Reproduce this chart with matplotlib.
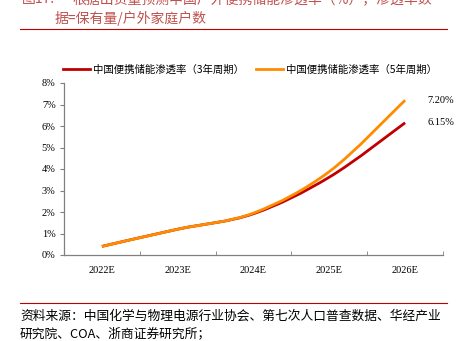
import matplotlib.pyplot as plt
from matplotlib.path import Path
from matplotlib.patches import PathPatch
from matplotlib.lines import Line2D

plt.rcParams['font.family'] = ['Noto Sans CJK SC', 'DejaVu Sans']

years = ['2022E', '2023E', '2024E', '2025E', '2026E']
rate_3y = [0.40, 1.20, 1.92, 3.62, 6.15]
rate_5y = [0.40, 1.20, 1.95, 3.88, 7.20]
label_3y = '中国便携储能渗透率（3年周期）'
label_5y = '中国便携储能渗透率（5年周期）'
red = '#C00000'
orange = '#FF8C00'
serif = ['Liberation Serif', 'DejaVu Serif']


def smooth_path(xs, ys):
    # Catmull-Rom style smoothing drawn as cubic Bezier segments
    pts = list(zip(xs, ys))
    verts = [pts[0]]
    codes = [Path.MOVETO]
    n = len(pts)
    for i in range(n - 1):
        p0 = pts[i - 1] if i > 0 else pts[i]
        p1 = pts[i]
        p2 = pts[i + 1]
        p3 = pts[i + 2] if i + 2 < n else pts[i + 1]
        c1 = (p1[0] + (p2[0] - p0[0]) / 6, p1[1] + (p2[1] - p0[1]) / 6)
        c2 = (p2[0] - (p3[0] - p1[0]) / 6, p2[1] - (p3[1] - p1[1]) / 6)
        verts += [c1, c2, p2]
        codes += [Path.CURVE4] * 3
    return Path(verts, codes)


fig = plt.figure(figsize=(4.62, 3.41), dpi=100)
ax = fig.add_axes([64 / 462, 1 - 255 / 341, 379 / 462, 172 / 341])

x = list(range(len(years)))
for vals, col in [(rate_3y, red), (rate_5y, orange)]:
    ax.add_patch(PathPatch(smooth_path(x, vals), facecolor='none',
                           edgecolor=col, lw=2.0, capstyle='butt'))

ax.text(4.3, rate_5y[-1], f'{rate_5y[-1]:.2f}%', fontsize=7.5, family=serif,
        va='center', ha='left')
ax.text(4.3, rate_3y[-1], f'{rate_3y[-1]:.2f}%', fontsize=7.5, family=serif,
        va='center', ha='left')

ax.set_xlim(-0.5, 4.5)
ax.set_ylim(0, 8)
ax.set_yticks(range(0, 9))
ax.set_yticklabels([f'{v}%' for v in range(0, 9)], family=serif, fontsize=7.5)
ax.set_xticks(x)
ax.set_xticklabels(years, family=serif, fontsize=7.5)
ax.set_xticks([i + 0.5 for i in range(-1, 5)], minor=True)
ax.tick_params(axis='x', which='major', length=0, pad=8)
ax.tick_params(axis='x', which='minor', length=3, direction='in', color='#808080')
ax.tick_params(axis='y', length=3, direction='out', color='#808080', pad=3)
for s in ['top', 'right']:
    ax.spines[s].set_visible(False)
for s in ['left', 'bottom']:
    ax.spines[s].set_color('#808080')
    ax.spines[s].set_linewidth(0.9)

handles = [Line2D([], [], color=red, lw=2.0), Line2D([], [], color=orange, lw=2.0)]
fig.legend(handles, [label_3y, label_5y], loc='center', ncol=2,
           bbox_to_anchor=(250 / 462, 1 - 70 / 341), frameon=False,
           fontsize=7.5, handlelength=2.6, columnspacing=1.2, handletextpad=0.3)

# title (top line is cut off in the source)
title_color = '#C0504D'
fig.text(22 / 462, 1 + 1 / 341, '图17:', color=title_color, fontsize=10, va='center')
fig.text(72 / 462, 1 + 1 / 341, '根据出货量预测中国户外便携储能渗透率（%），渗透率数',
         color=title_color, fontsize=10, va='center')
fig.text(55 / 462, 1 - 18 / 341, '据=保有量/户外家庭户数', color=title_color,
         fontsize=10, va='center')
fig.add_artist(Line2D([20 / 462, 447 / 462], [1 - 29 / 341] * 2, color='#C00000', lw=0.8))

fig.add_artist(Line2D([20 / 462, 447 / 462], [1 - 303 / 341] * 2, color='#C00000', lw=0.8))
fig.text(20 / 462, 1 - 316 / 341,
         '资料来源：中国化学与物理电源行业协会、第七次人口普查数据、华经产业',
         fontsize=9.2, va='center')
fig.text(20 / 462, 1 - 334 / 341, '研究院、COA、浙商证券研究所；', fontsize=9.2, va='center')

fig.savefig('out.png', dpi=100)
